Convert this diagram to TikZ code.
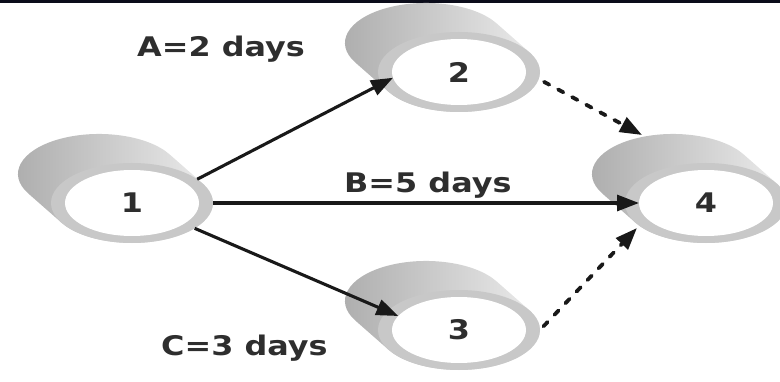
\documentclass[tikz,border=0pt]{standalone}
\usepackage{fontspec}
\usepackage{graphicx}
\setmainfont{DejaVu Sans}
\usetikzlibrary{arrows.meta,shapes.geometric}
\definecolor{txt}{HTML}{2E2E2E}
\definecolor{ringc}{HTML}{C8C8C8}
\definecolor{cyldark}{HTML}{ABABAB}
\definecolor{cylmid}{HTML}{D6D6D6}
\definecolor{cyllight}{HTML}{F0F0F0}
\definecolor{topbar}{HTML}{0B0C1A}
\newcommand\evlbl[1]{\scalebox{1.18}[1]{#1}}
% cylinder body behind an event node: #1 = centre
\newcommand\evcyl[1]{%
  \begin{scope}[shift={#1}]
    \shade[left color=cyldark, middle color=cylmid, right color=cyllight]
      (70.6,19.6) -- ++(-33,29)
      arc[start angle=29.3, end angle=209.3, x radius=81, y radius=40]
      -- ++(33,-29)
      arc[start angle=209.3, end angle=389.3, x radius=81, y radius=40]
      -- cycle;
  \end{scope}}
\begin{document}
\begin{tikzpicture}[x=1pt,y=1pt,
  outerev/.style={ellipse, minimum width=162pt, minimum height=80pt,
    inner sep=0pt, outer sep=0pt, fill=ringc},
  innerev/.style={ellipse, minimum width=134pt, minimum height=66pt,
    inner sep=0pt, outer sep=0pt, fill=white, text=txt,
    font=\fontsize{27}{30}\selectfont\bfseries},
  lbl/.style={anchor=base west, inner sep=0pt, text=txt,
    font=\fontsize{27}{30}\selectfont\bfseries},
  arr/.style={line width=3.1pt, draw=black!90,
    -{Triangle[length=22pt,width=16pt]}},
  darr/.style={line width=3.8pt, draw=black!90, line cap=round,
    dash pattern=on 6pt off 10pt,
    -{Triangle[length=22pt,width=16pt,line cap=butt]}}]
\useasboundingbox (0,0) rectangle (780,381);
\fill[topbar] (0,378) rectangle (780,381);

% event 1
\evcyl{(132,178)}
\node[outerev] (n1o) at (132,178) {};
\node[innerev] (n1) at (132,178) {\evlbl{1}};
% event 2
\evcyl{(459,309)}
\node[outerev] (n2o) at (459,309) {};
\node[innerev] (n2) at (459,309) {\evlbl{2}};
% event 3
\evcyl{(459,51)}
\node[outerev] (n3o) at (459,51) {};
\node[innerev] (n3) at (459,51) {\evlbl{3}};
% event 4
\evcyl{(706,178)}
\node[outerev] (n4o) at (706,178) {};
\node[innerev] (n4) at (706,178) {\evlbl{4}};

% labels
\node[lbl] (la) at (137,324) {\evlbl{A=2 days}};
\node[lbl] (lb) at (344,189) {\evlbl{B=5 days}};
\node[lbl] (lc) at (161,26) {\evlbl{C=3 days}};

% connectors
\coordinate (t24) at (642,246);
\coordinate (t34) at (637,153);
\draw[arr] (n1o.20) -- (n2.185);
\draw[arr] (n1o.0) -- (n4.180);
\draw[arr] (n1o.-22) -- (n3.167);
\draw[darr, shorten <=6pt] (n2o.-5) -- (t24);
\draw[darr, shorten <=5pt] (n3o.0) -- (t34);
\end{tikzpicture}
\end{document}
